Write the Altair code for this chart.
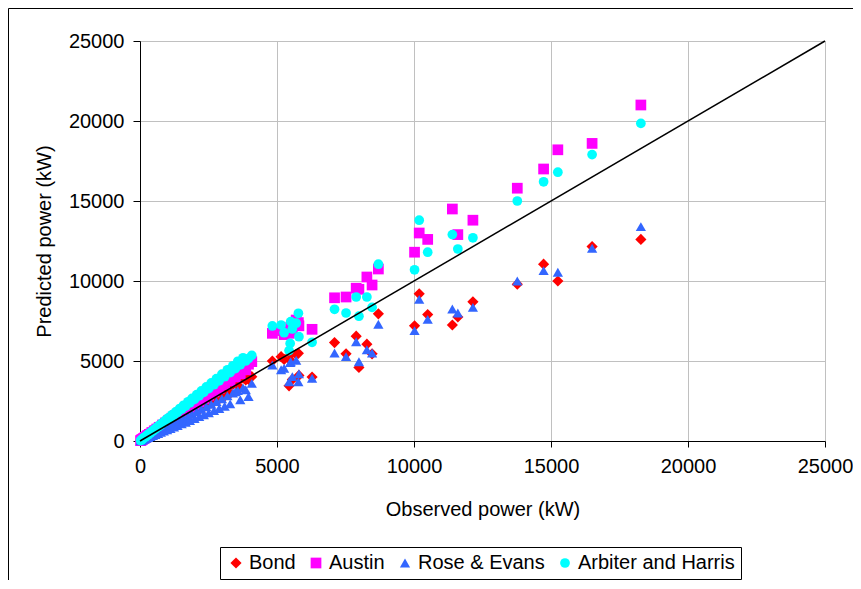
import altair as alt
import pandas as pd

series_names = ["Bond", "Austin", "Rose & Evans", "Arbiter and Harris"]
series_colors = ["#FF0000", "#FF00FF", "#3366FF", "#00FFFF"]
series_shapes = ["diamond", "square", "triangle-up", "circle"]
series_sizes = [125, 95, 115, 95]

tick_values = [0, 5000, 10000, 15000, 20000, 25000]

observed = [18280, 16500, 15250, 14730, 13770, 12150, 11600, 11400, 10500, 10190,
            10020, 8700, 8470, 8280, 7990, 7890, 7520, 7100, 6280, 4830,
            5150, 5260, 5440, 5480, 5500, 5560, 5700, 5780, 5800,
            20, 45, 70, 95, 130, 160, 190, 230, 270, 300, 340, 380, 430, 470,
            520, 560, 610, 660, 700, 760, 820, 870, 930, 990, 1040, 1110, 1170,
            1240, 1300, 1370, 1450, 1520, 1590, 1670, 1750, 1820, 1900, 1990,
            2070, 2160, 2240, 2330, 2420, 2510, 2600, 2700, 2790, 2890, 2990,
            3090, 3190, 3290, 3390, 3480, 3570, 3660, 3760, 3860, 3960, 4080]

bond = [12600, 12150, 10000, 11050, 9800, 8700, 7750, 7250, 7900, 9200,
        7200, 7950, 5450, 6050, 4600, 6550, 5450, 6150, 4000, 5000,
        5270, 5100, 3450, 5060, 5400, 3850, 5420, 5480, 4100,
        20, 42, 72, 88, 132, 148, 196, 212, 278, 276, 350, 350, 445, 430,
        540, 515, 635, 605, 730, 695, 850, 795, 965, 905, 1080, 1010, 1215,
        1130, 1350, 1250, 1510, 1380, 1650, 1520, 1820, 1650, 1980, 1810,
        2150, 1960, 2340, 2110, 2520, 2280, 2710, 2450, 2900, 2620, 3120,
        2800, 3330, 2980, 3540, 3600, 3720, 3320, 3930, 3820, 3850, 4020]

austin = [21000, 18600, 18200, 17000, 15800, 13800, 12900, 14500, 12600, 13000,
          11800, 10750, 9750, 10250, 9480, 9550, 9000, 8950, 6980, 6730,
          6900, 6650, 6730, 6850, 7100, 6800, 7560, 7400, 7200,
          24, 52, 86, 108, 160, 182, 232, 262, 330, 340, 415, 430, 525, 535,
          635, 640, 745, 750, 855, 865, 1000, 990, 1130, 1130, 1270, 1260, 1430,
          1410, 1590, 1560, 1770, 1730, 1940, 1900, 2140, 2070, 2320, 2270,
          2530, 2460, 2730, 2650, 2950, 2860, 3170, 3070, 3400, 3290, 3650,
          3520, 3890, 3750, 4140, 4000, 4350, 4200, 4590, 4450, 4800, 4960]

rose = [13400, 12050, 10550, 10650, 10000, 8350, 8000, 8250, 7600, 8850,
        6900, 7300, 5500, 5700, 4950, 6200, 5270, 5500, 3920, 4750,
        4450, 4550, 3700, 4900, 4950, 4020, 5050, 3700, 4200,
        16, 34, 60, 70, 115, 118, 168, 170, 240, 215, 300, 270, 380, 335,
        460, 400, 540, 465, 620, 540, 725, 615, 820, 700, 920, 780, 1030,
        875, 1150, 960, 1280, 1070, 1400, 1170, 1540, 1280, 1680, 1400,
        1830, 1520, 1980, 1640, 2140, 1760, 2300, 1900, 2460, 2030, 2640,
        2170, 2820, 2320, 3000, 3080, 3150, 2580, 3320, 3200, 2780, 3600]

arbiter = [19850, 17900, 16800, 16200, 15000, 12700, 12000, 12900, 11800, 13800,
           10700, 11050, 8350, 9000, 7800, 9000, 8000, 8230, 6170, 7190,
           7250, 6770, 5650, 6100, 7460, 7000, 7360, 7980, 6520,
           28, 58, 98, 125, 185, 210, 262, 300, 380, 395, 470, 500, 600, 615,
           720, 740, 850, 870, 970, 1000, 1140, 1150, 1300, 1300, 1450, 1460, 1640,
           1620, 1820, 1790, 2030, 1990, 2230, 2180, 2450, 2380, 2660, 2600,
           2900, 2820, 3130, 3040, 3380, 3280, 3630, 3520, 3900, 3760, 4180,
           4020, 4450, 4280, 4700, 4530, 4980, 4760, 5200, 5000, 5150, 5350]

line_x = [0, 25000]
line_y = [0, 25000]

rows = []
for name, vals in zip(series_names, [bond, austin, rose, arbiter]):
    for o, p in zip(observed, vals):
        rows.append({"observed": o, "predicted": p, "series": name})
df = pd.DataFrame(rows)
df_line = pd.DataFrame({"observed": line_x, "predicted": line_y})
df_border = pd.DataFrame({"k": [0]})

FONT = "Liberation Sans"

x_scale = alt.Scale(domain=[0, 25000], nice=False)
y_scale = alt.Scale(domain=[0, 25000], nice=False)

x_axis = alt.Axis(values=tick_values, format="d", title="Observed power (kW)", grid=True,
                  gridColor="#C0C0C0", gridWidth=1, domainColor="#000000",
                  tickColor="#000000", tickSize=6, labelFontSize=20, titleFontSize=20,
                  labelPadding=9, titlePadding=23, labelFont=FONT, titleFont=FONT,
                  titleFontWeight="normal", labelColor="black", titleColor="black",
                  labelFlush=False, labelOverlap=False)
y_axis = alt.Axis(values=tick_values, format="d", title="Predicted power (kW)", grid=True,
                  gridColor="#C0C0C0", gridWidth=1, domainColor="#000000",
                  tickColor="#000000", tickSize=7, labelFontSize=20, titleFontSize=20,
                  labelPadding=9, titlePadding=14, labelFont=FONT, titleFont=FONT,
                  titleFontWeight="normal", labelColor="black", titleColor="black",
                  labelFlush=False, labelOverlap=False)

points = alt.Chart(df).mark_point(filled=True, opacity=1, strokeWidth=0).encode(
    x=alt.X("observed:Q", scale=x_scale, axis=x_axis),
    y=alt.Y("predicted:Q", scale=y_scale, axis=y_axis),
    color=alt.Color("series:N", scale=alt.Scale(domain=series_names, range=series_colors),
                    legend=alt.Legend(title=None)),
    shape=alt.Shape("series:N", scale=alt.Scale(domain=series_names, range=series_shapes),
                    legend=alt.Legend(title=None)),
    size=alt.Size("series:N", scale=alt.Scale(domain=series_names, range=series_sizes),
                  legend=None),
)

line = alt.Chart(df_line).mark_line(color="black", strokeWidth=1.5).encode(
    x=alt.X("observed:Q", scale=x_scale),
    y=alt.Y("predicted:Q", scale=y_scale),
)

border = alt.Chart(df_border).mark_rect(filled=False, stroke="black", strokeWidth=1).encode(
    x=alt.value(-131.5), x2=alt.value(800), y=alt.value(-32.5), y2=alt.value(620)
)

chart = alt.layer(points, line, border).properties(
    width=685, height=400,
    padding={"left": 132, "top": 33, "right": 28, "bottom": 139},
    autosize=alt.AutoSizeParams(type="none"),
).configure_view(strokeWidth=0).configure_legend(
    orient="none", legendX=80, legendY=506, direction="horizontal",
    strokeColor="black", strokeWidth=1, padding=6, columnPadding=10,
    labelOffset=3, symbolSize=80, symbolStrokeWidth=0,
    labelFontSize=20, labelFont=FONT, labelColor="black",
)

chart.save("out.html", embed_options={"renderer": "svg", "actions": False})
